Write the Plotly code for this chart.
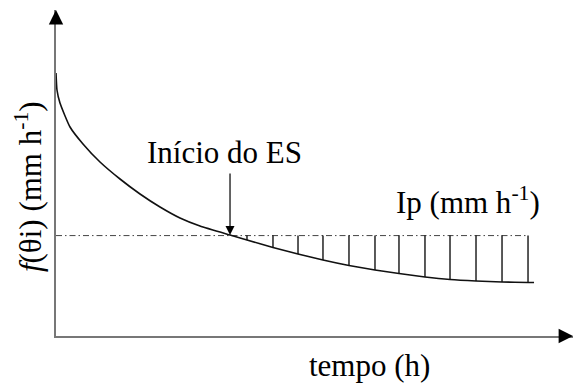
import plotly.graph_objects as go

# Infiltration capacity curve f(θi) over time (arbitrary units)
tempo = [0.0, 0.019, 0.077, 0.271, 0.522, 0.851, 1.238, 1.625, 2.012, 2.398, 2.785,
         3.366, 3.694, 4.197, 4.681, 5.164, 5.667, 6.170, 6.634, 7.137, 7.621, 8.124,
         8.627, 9.130, 9.246]
f_theta = [8.067, 7.546, 7.147, 6.411, 5.890, 5.337, 4.816, 4.356, 3.957, 3.620, 3.374,
           3.098, 2.945, 2.715, 2.515, 2.331, 2.163, 2.025, 1.917, 1.810, 1.733, 1.687,
           1.656, 1.641, 1.641]

# Precipitation intensity Ip
Ip = 3.08
ip_t = [0.0, 9.13]

# Hatching (excess) positions and the curve value at each
hatch_t = [3.694, 4.197, 4.681, 5.164, 5.667, 6.170, 6.634, 7.137, 7.621, 8.124, 8.627, 9.130]
hatch_f = [2.945, 2.715, 2.515, 2.331, 2.163, 2.025, 1.917, 1.810, 1.733, 1.687, 1.656, 1.641]

# Start of surface runoff
es_t = 3.366
es_f = 3.10
es_label_y = 5.03

FONT = "'Liberation Serif', 'Times New Roman', 'DejaVu Serif', serif"
FS = 31

fig = go.Figure()

# Ip dash-dot line
fig.add_trace(go.Scatter(x=ip_t, y=[Ip, Ip], mode="lines",
                         line=dict(color="#444444", width=1, dash="6px,3px,1.5px,3px"),
                         hoverinfo="skip", showlegend=False))

# hatch lines
hx, hy = [], []
for t, fv in zip(hatch_t, hatch_f):
    hx += [t, t, None]
    hy += [Ip, fv, None]
fig.add_trace(go.Scatter(x=hx, y=hy, mode="lines",
                         line=dict(color="black", width=1.3),
                         hoverinfo="skip", showlegend=False))

# curve
fig.add_trace(go.Scatter(x=tempo, y=f_theta, mode="lines",
                         line=dict(color="#111111", width=1.6, shape="spline", smoothing=0.5),
                         hoverinfo="skip", showlegend=False))

annotations = [
    # axis arrowheads
    dict(x=10, y=0, xref="x", yref="y", ax=-14, ay=0, showarrow=True, text="",
         arrowhead=2, arrowsize=1.6, arrowwidth=1.8, arrowcolor="black", standoff=0),
    dict(x=0, y=10, xref="x", yref="y", ax=0, ay=14, showarrow=True, text="",
         arrowhead=2, arrowsize=1.6, arrowwidth=1.8, arrowcolor="black", standoff=0),
    # Início do ES arrow
    dict(x=es_t, y=es_f, xref="x", yref="y", ax=es_t, ay=es_label_y, axref="x", ayref="y",
         showarrow=True, text="", arrowhead=2, arrowsize=1.5, arrowwidth=1.2,
         arrowcolor="black", standoff=0),
    dict(x=3.25, y=5.64, xref="x", yref="y", text="Início do ES", showarrow=False,
         font=dict(family=FONT, size=FS, color="black"), xanchor="center", yanchor="middle"),
    dict(x=7.97, y=4.15, xref="x", yref="y", text="Ip (mm h<sup>-1</sup>)", showarrow=False,
         font=dict(family=FONT, size=FS, color="black"), xanchor="center", yanchor="middle"),
    dict(x=6.07, y=-0.089, xref="x", yref="paper", text="tempo (h)", showarrow=False,
         font=dict(family=FONT, size=FS, color="black"), xanchor="center", yanchor="middle"),
    dict(x=-0.054, y=0.457, xref="paper", yref="paper",
         text="<i>f</i>(θi) (mm h<sup>-1</sup>)", showarrow=False, textangle=-90,
         font=dict(family=FONT, size=FS, color="black"), xanchor="center", yanchor="middle"),
]

fig.update_layout(
    width=576, height=385,
    margin=dict(l=56, r=3, t=10, b=49),
    paper_bgcolor="white", plot_bgcolor="white",
    font=dict(family=FONT, color="black"),
    xaxis=dict(range=[0, 10], showgrid=False, zeroline=False, showticklabels=False,
               ticks="", showline=True, linecolor="#777777", linewidth=2, fixedrange=True),
    yaxis=dict(range=[0, 10], showgrid=False, zeroline=False, showticklabels=False,
               ticks="", showline=True, linecolor="#777777", linewidth=2, fixedrange=True),
    annotations=annotations,
    showlegend=False,
)

fig.write_html("out.html", config={"displayModeBar": False})
